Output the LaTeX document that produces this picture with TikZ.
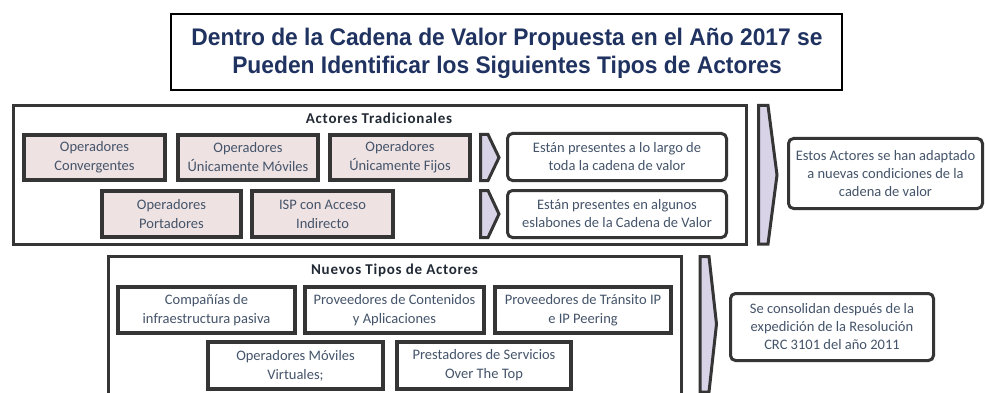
\documentclass[tikz,border=0pt]{standalone}
\usepackage{fontspec}
\newfontfamily\titlefont[FakeStretch=0.95]{Liberation Sans}
\newfontfamily\bodyfont{Carlito}
\newfontfamily\headfont[LetterSpace=5]{Carlito}
\definecolor{titleblue}{HTML}{1F3260}
\definecolor{slate}{HTML}{44546A}
\definecolor{headcol}{HTML}{222A35}
\definecolor{pinkfill}{HTML}{EFE2E2}
\definecolor{lavender}{HTML}{D9D3E7}
\definecolor{edge}{HTML}{353535}
\tikzset{
  boxtext/.style={font=\bodyfont\fontsize{14.5}{19}\selectfont, text=slate, align=center},
  pinkbox/.style={boxtext, draw=edge, line width=4pt, fill=pinkfill, inner sep=0pt},
  whitebox/.style={boxtext, draw=edge, line width=4pt, fill=white, inner sep=0pt},
  notebox/.style={boxtext, draw=edge, line width=3pt, fill=white, rounded corners=5pt, inner sep=0pt, font=\bodyfont\fontsize{14.5}{18}\selectfont},
  groupbox/.style={draw=edge, line width=3pt},
  heading/.style={font=\headfont\bfseries\fontsize{15}{18}\selectfont, text=headcol},
  chevron/.style={draw=edge, line width=3pt, fill=lavender, line join=miter}
}
\begin{document}
\begin{tikzpicture}[x=1pt,y=-1pt]
\clip (0,0) rectangle (985,393);
\fill[white] (0,0) rectangle (985,393);
% title
\node[draw=black, line width=2pt, minimum width=671pt, minimum height=76pt, inner sep=0pt] (title) at (506.5,52) {};
\node[font=\titlefont\bfseries\fontsize{24}{28}\selectfont, text=titleblue, align=center] (titletext) at (507,53)
  {Dentro de la Cadena de Valor Propuesta en el Año 2017 se\\Pueden Identificar los Siguientes Tipos de Actores};
% group 1
\node[groupbox, minimum width=733pt, minimum height=139pt, inner sep=0pt] (g1) at (380,175) {};
\node[heading] (h1) at (379,118) {Actores Tradicionales};
\node[pinkbox, minimum width=141pt, minimum height=45pt] (a) at (94.5,157.5) {Operadores\\Convergentes};
\node[pinkbox, minimum width=140pt, minimum height=45pt] (b) at (248,157.5) {Operadores\\Únicamente Móviles};
\node[pinkbox, minimum width=140pt, minimum height=45pt] (c) at (400,157.5) {Operadores\\Únicamente Fijos};
\node[pinkbox, minimum width=139pt, minimum height=46pt] (d) at (171.5,214) {Operadores\\Portadores};
\node[pinkbox, minimum width=141pt, minimum height=46pt] (e) at (322.5,214) {ISP con Acceso\\Indirecto};
\draw[chevron] (480.5,134.5) -- (488,134.5) -- (499,157.5) -- (488,180.5) -- (480.5,180.5) -- cycle;
\draw[chevron] (480.5,190.5) -- (488,190.5) -- (499,214) -- (488,237.5) -- (480.5,237.5) -- cycle;
\node[notebox, minimum width=219pt, minimum height=47pt] (n1) at (617,157) {Están presentes a lo largo de\\toda la cadena de valor};
\node[notebox, minimum width=219pt, minimum height=47pt] (n2) at (617,214) {Están presentes en algunos\\eslabones de la Cadena de Valor};
\draw[chevron] (758.5,105.5) -- (768,105.5) -- (777,175) -- (768,244) -- (758.5,244) -- cycle;
\node[notebox, minimum width=194pt, minimum height=70pt] (n3) at (885.5,173.5) {Estos Actores se han adaptado\\a nuevas condiciones de la\\cadena de valor};
% group 2
\node[groupbox, minimum width=573pt, minimum height=160pt, inner sep=0pt] (g2) at (395,336.5) {};
\node[heading] (h2) at (394.5,270) {Nuevos Tipos de Actores};
\node[whitebox, minimum width=177pt, minimum height=46pt] (f) at (206.5,310) {Compañías de\\infraestructura pasiva};
\node[whitebox, minimum width=179pt, minimum height=46pt] (g) at (394.5,310) {Proveedores de Contenidos\\y Aplicaciones};
\node[whitebox, minimum width=176pt, minimum height=46pt] (h) at (583,310) {Proveedores de Tránsito IP\\e IP Peering};
\node[whitebox, minimum width=175pt, minimum height=47pt] (i) at (295.5,365.5) {Operadores Móviles\\Virtuales;};
\node[whitebox, minimum width=174pt, minimum height=47pt] (j) at (484,365.5) {Prestadores de Servicios\\Over The Top};
\draw[chevron] (700,256.5) -- (709,256.5) -- (716.5,324) -- (709,392) -- (700,392) -- cycle;
\node[notebox, minimum width=203pt, minimum height=67pt] (n4) at (832,327) {Se consolidan después de la\\expedición de la Resolución\\CRC 3101 del año 2011};
\end{tikzpicture}
\end{document}
